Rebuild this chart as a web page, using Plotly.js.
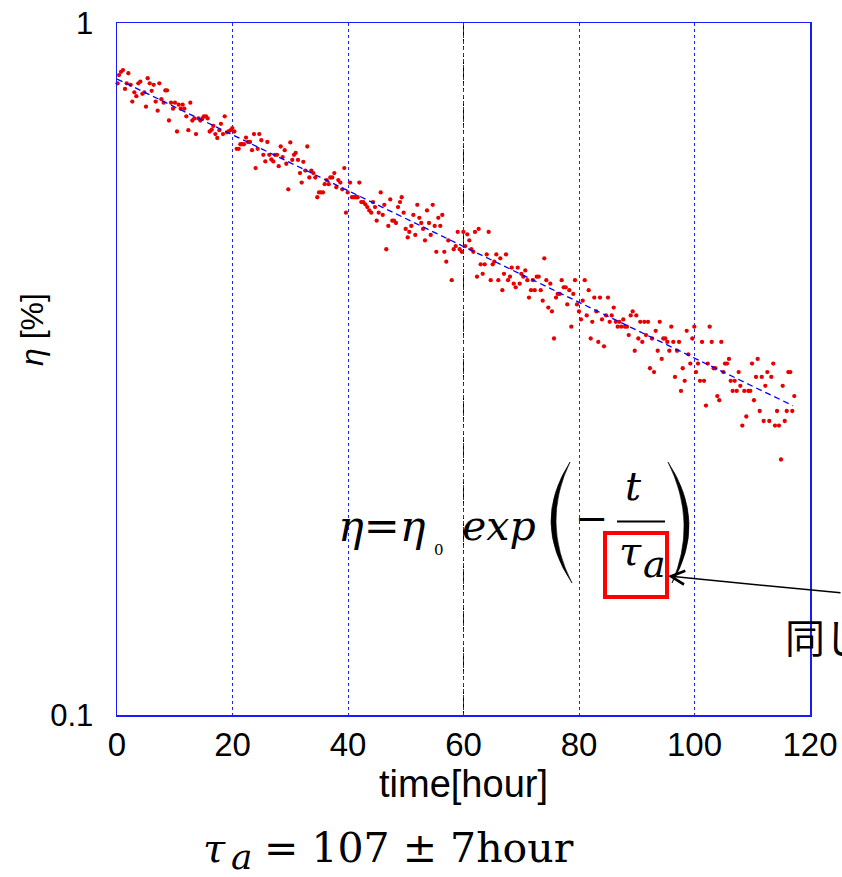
<!DOCTYPE html>
<html>
<head>
<meta charset="utf-8">
<script src="https://cdn.plot.ly/plotly-3.0.1.min.js"></script>
<style>html,body{margin:0;padding:0;background:#fff;}#chart{width:842px;height:877px;}</style>
</head>
<body>
<div id="chart"></div>
<script>
// measured efficiency (η) vs time [hour]
const hours = [
0.10,0.35,0.69,1.04,1.39,1.68,1.96,2.37,2.65,3.00,3.35,3.69,4.04,4.39,4.73,5.02,5.31,5.66,6.00,6.35,
6.70,7.04,7.33,7.68,8.08,8.37,8.66,9.00,9.35,9.70,10.04,10.39,10.68,11.03,11.37,11.66,12.00,12.35,12.70,13.04,
13.39,13.68,14.08,14.43,14.78,15.06,15.41,15.70,16.05,16.40,16.68,17.03,17.37,17.72,18.00,18.35,18.65,19.05,19.39,19.68,
19.97,20.32,20.72,21.07,21.36,21.65,21.99,22.34,22.68,23.03,23.38,23.72,24.00,24.36,24.64,24.99,25.34,25.68,26.03,26.37,
26.72,27.07,27.36,27.71,28.00,28.35,28.69,29.04,
29.32,29.66,30.01,30.35,30.65,30.94,31.34,31.69,31.98,32.26,32.61,32.95,33.30,33.65,33.99,34.34,34.68,34.98,35.32,35.67,
35.97,36.31,36.66,36.94,37.28,37.63,37.97,38.32,38.67,39.01,39.36,39.65,39.95,40.35,40.69,41.04,41.39,41.68,41.96,42.30,
42.65,43.00,43.34,43.69,44.03,44.33,44.68,44.97,45.32,45.66,46.01,46.29,46.63,46.98,47.32,47.67,47.97,48.31,48.66,49.00,
49.30,49.64,49.99,50.34,50.61,50.96,51.31,51.65,52.00,52.35,52.69,52.99,53.33,53.68,54.03,54.32,54.67,55.01,55.29,55.64,
55.98,56.33,56.68,57.02,57.37,
57.96,58.30,58.65,59.00,59.34,59.69,59.97,60.31,60.66,61.00,61.35,61.70,61.99,62.34,62.63,62.98,63.32,63.67,64.02,64.36,
64.71,65.06,65.33,65.68,66.03,66.37,66.72,67.01,67.36,67.71,68.05,68.35,68.69,69.04,69.39,69.73,70.01,70.36,70.70,71.05,
71.34,71.69,72.03,72.33,72.68,73.02,73.37,73.71,73.99,74.34,74.68,75.03,75.32,75.67,76.02,76.31,76.66,77.00,77.35,77.70,
77.97,78.32,78.67,79.01,79.31,79.65,80.00,80.35,80.64,80.99,81.33,81.68,82.03,82.30,82.65,83.00,83.34,83.64,83.98,84.33,
84.68,85.02,85.32,85.66,86.01,86.36,86.70,86.98,
87.32,87.67,87.97,88.31,88.61,88.95,89.30,89.65,89.92,90.27,90.61,90.96,91.31,91.60,91.95,92.29,92.64,92.99,93.28,93.63,
93.97,94.32,94.60,94.94,95.29,95.64,95.98,96.33,96.62,96.97,97.32,97.66,97.96,98.30,98.65,98.93,99.27,99.62,99.97,100.26,
100.61,100.95,101.30,101.65,101.99,102.29,102.63,102.98,103.32,103.60,103.95,104.29,104.64,104.99,105.28,105.63,105.97,106.27,106.61,106.96,
107.31,107.65,107.93,108.28,108.62,108.97,109.32,109.66,109.96,110.30,110.65,110.94,111.29,111.64,111.98,112.26,112.61,112.95,113.30,113.64,
113.94,114.29,114.63,114.98,115.27,115.62,115.97,116.24,116.59,116.93,117.28
];
const eta = [
0.818,0.841,0.850,0.855,0.803,0.818,0.846,0.814,0.770,0.794,0.784,0.818,0.823,0.790,0.794,0.757,0.832,0.818,0.798,0.814,
0.770,0.747,0.818,0.776,0.767,0.799,0.799,0.723,0.767,0.752,0.767,0.697,0.762,0.752,0.762,0.752,0.733,0.700,0.767,0.723,
0.728,0.691,0.728,0.723,0.728,0.733,0.733,0.728,0.697,0.701,0.710,0.691,0.682,0.700,0.715,0.691,0.733,0.695,0.698,0.700,
0.705,0.697,0.658,0.658,0.668,0.668,0.668,0.683,0.673,0.673,0.655,0.691,0.617,0.658,0.691,0.677,0.645,0.631,0.673,0.645,
0.635,0.631,0.645,0.645,0.621,0.663,0.640,0.655,
0.626,0.575,0.672,0.634,0.645,0.649,0.634,0.607,0.588,0.630,0.612,0.663,0.598,0.612,0.607,0.598,0.560,0.569,0.569,0.569,
0.585,0.593,0.585,0.598,0.598,0.607,0.579,0.593,0.588,0.575,0.617,0.532,0.569,0.588,0.560,0.560,0.560,0.560,0.588,0.551,
0.551,0.547,0.542,0.536,0.532,0.551,0.542,0.518,0.532,0.569,0.528,0.546,0.471,0.509,0.556,0.518,0.518,0.514,0.542,0.551,
0.560,0.532,0.504,0.490,0.499,0.509,0.528,0.494,0.546,0.523,0.514,0.504,0.485,0.536,0.514,0.494,0.546,0.509,0.467,0.523,
0.509,0.528,0.467,0.452,0.485,
0.425,0.471,0.476,0.499,0.471,0.467,0.499,0.476,0.495,0.485,0.471,0.467,0.499,0.430,0.504,0.448,0.434,0.448,0.463,0.499,
0.425,0.448,0.452,0.463,0.425,0.457,0.411,0.434,0.463,0.425,0.430,0.443,0.420,0.415,0.443,0.420,0.434,0.430,0.439,0.425,
0.401,0.411,0.425,0.411,0.430,0.430,0.411,0.397,0.457,0.425,0.388,0.420,0.383,0.350,0.401,0.406,0.406,0.425,0.415,0.415,
0.392,0.411,0.364,0.406,0.425,0.392,0.383,0.373,0.397,0.425,0.378,0.411,0.350,0.370,0.401,0.383,0.346,0.401,0.373,0.341,
0.378,0.401,0.370,0.378,0.388,0.370,0.364,0.370,
0.364,0.373,0.364,0.364,0.354,0.378,0.383,0.336,0.378,0.350,0.370,0.346,0.370,0.354,0.370,0.317,0.350,0.313,0.359,0.336,
0.370,0.327,0.350,0.350,0.346,0.336,0.364,0.346,0.308,0.336,0.346,0.294,0.317,0.304,0.359,0.332,0.322,0.350,0.364,0.313,
0.322,0.304,0.346,0.304,0.280,0.322,0.364,0.346,0.317,0.317,0.289,0.285,0.346,0.313,0.322,0.322,0.327,0.304,0.294,0.304,
0.294,0.313,0.299,0.262,0.294,0.270,0.294,0.294,0.322,0.285,0.308,0.327,0.275,0.308,0.266,0.299,0.313,0.266,0.308,0.322,
0.262,0.275,0.262,0.234,0.299,0.266,0.275,0.313,0.313,0.275,0.289
];
// fitted exponential (straight on log axis): end points
const fitHours = [0, 117];
const fitEta = [0.830, 0.280];
const xTicks = [0, 20, 40, 60, 80, 100, 120];
const yTicks = [0.1, 1];
const yTickText = ['0.1', '1'];

const P = (px) => (px - 117) / 693;
const Q = (py) => (715 - py) / 692;

const traces = [
  {x: hours, y: eta, type: 'scatter', mode: 'markers',
   marker: {color: '#e60000', size: 4.3}, cliponaxis: false, hoverinfo: 'x+y'},
  {x: fitHours, y: fitEta, type: 'scatter', mode: 'lines',
   line: {color: '#0000ff', width: 1.3, dash: '6px,4px'}, hoverinfo: 'skip'}
];

const serif = 'DejaVu Serif';
const ann = (text, px, py, size, xanchor, extra) => Object.assign({
  text: text, xref: 'paper', yref: 'paper', x: P(px), y: Q(py),
  xanchor: xanchor || 'left', yanchor: 'middle', showarrow: false,
  font: {family: serif, size: size, color: '#000'}
}, extra || {});

const layout = {
  width: 842, height: 877,
  margin: {l: 117, r: 32, t: 23, b: 162},
  paper_bgcolor: '#fff', plot_bgcolor: '#fff',
  showlegend: false,
  font: {family: 'Liberation Sans, Arial, sans-serif', color: '#000'},
  xaxis: {
    range: [0, 120], tickvals: xTicks, ticks: '', ticklabelstandoff: 0,
    tickfont: {size: 33, family: 'Liberation Sans', color: '#000'},
    showgrid: true, gridcolor: '#2222ff', griddash: '3px,3px', gridwidth: 1,
    showline: true, linecolor: '#1a1aff', linewidth: 1.5, mirror: true, zeroline: false,
    automargin: false,
    title: {text: 'time[hour]', font: {size: 38, family: 'Liberation Sans', color: '#000'}, standoff: 0}
  },
  yaxis: {
    type: 'log', range: [-1, 0], tickvals: yTicks, ticktext: yTickText, ticks: '', ticklabelstandoff: 16,
    tickfont: {size: 31, family: 'Liberation Sans', color: '#000'},
    showgrid: false, showline: true, linecolor: '#1a1aff', linewidth: 1.5, mirror: true, zeroline: false
  },
  shapes: [
    {type: 'line', xref: 'x', yref: 'paper', x0: 60, x1: 60, y0: 0, y1: 1, layer: 'between',
     line: {color: '#ffffff', width: 1.5}},
    {type: 'line', xref: 'x', yref: 'paper', x0: 60, x1: 60, y0: 0, y1: 1, layer: 'between',
     line: {color: '#000000', width: 1, dash: '4px,3px'}},
    // fraction bar
    {type: 'line', xref: 'paper', yref: 'paper', x0: P(617), x1: P(665), y0: Q(521.5), y1: Q(521.5),
     line: {color: '#000', width: 2}},
    // big parentheses
    {type: 'path', xref: 'paper', yref: 'paper',
     path: `M ${P(570)},${Q(462)} Q ${P(531)},${Q(522.5)} ${P(572)},${Q(583)} Q ${P(541)},${Q(522.5)} ${P(570)},${Q(462)} Z`,
     fillcolor: '#000', line: {color: '#000', width: 0.6}},
    {type: 'path', xref: 'paper', yref: 'paper',
     path: `M ${P(668)},${Q(462)} Q ${P(708)},${Q(522.5)} ${P(672)},${Q(583)} Q ${P(698)},${Q(522.5)} ${P(668)},${Q(462)} Z`,
     fillcolor: '#000', line: {color: '#000', width: 0.6}},
    // red highlight box
    {type: 'rect', xref: 'paper', yref: 'paper', x0: P(605), x1: P(667), y0: Q(597), y1: Q(533),
     line: {color: '#ff0000', width: 4}, fillcolor: 'rgba(0,0,0,0)'}
  ],
  annotations: [
    // y-axis title
    {text: '<i>η</i> [%]', xref: 'paper', yref: 'paper', x: P(32), y: Q(330), textangle: -90,
     xanchor: 'center', yanchor: 'middle', showarrow: false,
     font: {family: 'Liberation Sans', size: 32, color: '#000'}},
    // equation
    ann('<i>η</i>=<i>η</i>', 336, 526, 43),
    ann('0', 439, 550, 15, 'center'),
    ann('<i>exp</i>', 460, 526, 41),
    ann('−', 592, 518, 40, 'center'),
    ann('<i>t</i>', 633, 486, 40, 'center'),
    ann('<i>τ</i>', 617, 551, 40),
    ann('<i>a</i>', 641, 564, 38),
    // arrow
    {text: '', xref: 'paper', yref: 'paper', x: P(668), y: Q(576), showarrow: true,
     ax: 200, ay: 17, arrowcolor: '#000', arrowwidth: 1.5, arrowhead: 5, arrowsize: 1.8, standoff: 0},
    ann('同じ', 783, 636, 40, 'left', {font: {family: 'Noto Sans CJK JP', size: 40, color: '#000'}}),
    // fitted time constant
    ann('<i>τ</i>', 201, 848, 40),
    ann('<i>a</i>', 229, 856, 36),
    ann('= 107 ± 7hour', 262, 848, 41)
  ]
};

Plotly.newPlot('chart', traces, layout, {displayModeBar: false, staticPlot: true});
</script>
</body>
</html>
